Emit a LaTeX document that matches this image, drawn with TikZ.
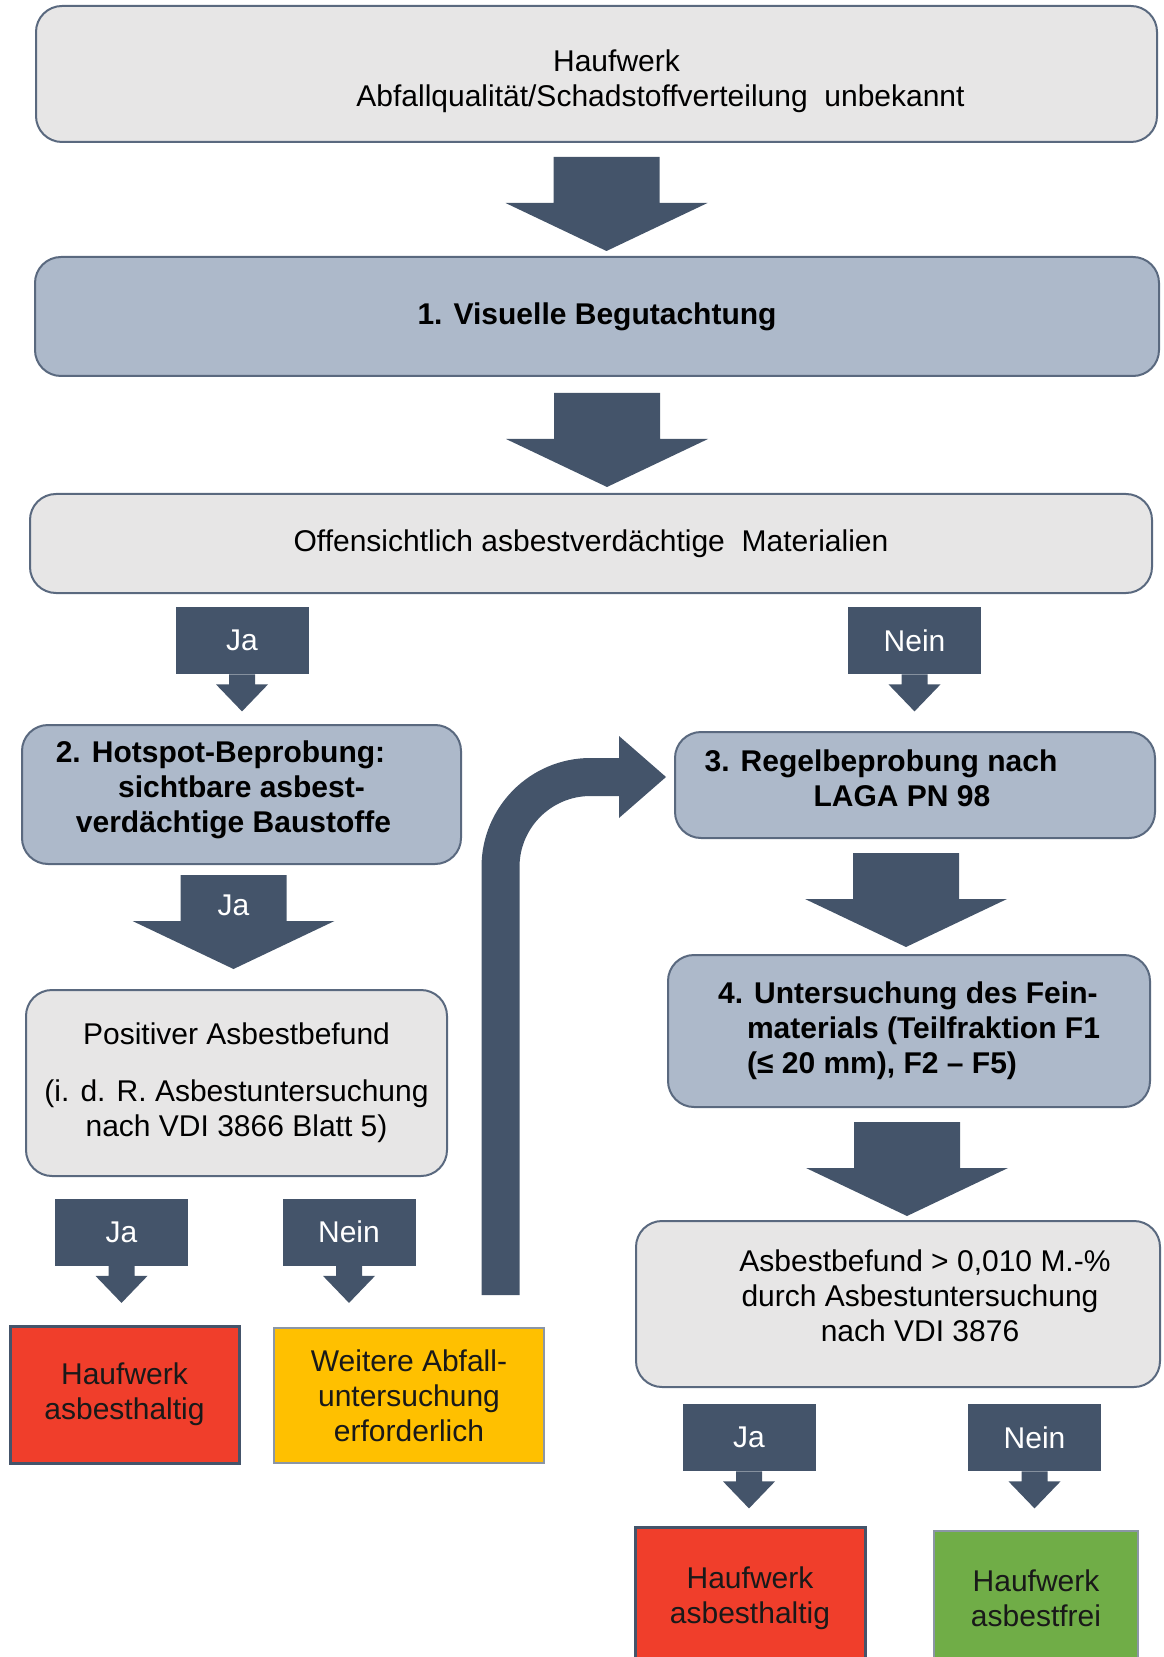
\documentclass[tikz,border=0pt]{standalone}
\usepackage{fontspec}
\setmainfont{Liberation Sans}
\usepackage{tikz}

\definecolor{slate}{HTML}{44546A}
\definecolor{edge}{HTML}{5A697F}
\definecolor{greyfill}{HTML}{E7E6E6}
\definecolor{bluefill}{HTML}{ADB9CA}
\definecolor{alarm}{HTML}{F03E2B}
\definecolor{amber}{HTML}{FFC000}
\definecolor{clean}{HTML}{70AD47}

\begin{document}
\begin{tikzpicture}[
  x=0.5pt, y=-0.5pt,
  font=\fontsize{15}{17.5}\selectfont,
  greybox/.style={rectangle, rounded corners=13pt, draw=edge, line width=1pt, fill=greyfill, align=center, inner sep=0pt},
  bluebox/.style={greybox, fill=bluefill, font=\fontsize{15}{17.5}\selectfont\bfseries},
  result/.style={rectangle, draw=edge!70, line width=1pt, align=center, inner sep=0pt, text=black!90},
  tag/.style={rectangle, fill=slate, text=white, minimum width=66.5pt, minimum height=33.5pt, inner sep=0pt},
  % block arrows, drawn from the top middle of the shaft
  bigdown/.pic={\fill[slate] (-53,0) -- (53,0) -- (53,46) -- (101,46) -- (0,94) -- (-101,46) -- (-53,46) -- cycle;},
  notch/.pic={\fill[slate] (-13,0) -- (13,0) -- (13,10) -- (26,10) -- (0,37) -- (-26,10) -- (-13,10) -- cycle;}
]
\clip (0,0) rectangle (1163,1657);

% Top of the chart
\node[greybox, minimum width=560.5pt, minimum height=68pt, text height=36pt] (start) at (596.5,74)
  {\hspace*{20pt}Haufwerk\\\hspace*{64pt}Abfallqualität/Schadstoffverteilung\ \ unbekannt};
\pic at ([xshift=5pt,yshift=-7pt]start.south) {bigdown};

\node[bluebox, minimum width=562pt, minimum height=59.5pt] (visual) at (597,316.5) {1. Visuelle Begutachtung};
\pic at ([xshift=5pt,yshift=-8pt]visual.south) {bigdown};

\node[greybox, minimum width=561pt, minimum height=49.5pt] (obvious) at (591,543.5)
  {Offensichtlich asbestverdächtige\ \ Materialien};

% Ja / Nein after the visual check
\node[tag] (yes1) at (242,640.5) {Ja};
\pic at (yes1.south) {notch};
\node[tag] (no1) at (914.5,640.5) {Nein};
\pic at (no1.south) {notch};

% Left branch: hotspot sampling
\node[bluebox, minimum width=219.5pt, minimum height=69.5pt, text depth=8pt] (hotspot) at (241.5,794.5)
  {2. Hotspot-Beprobung:\hspace*{21pt}\\sichtbare asbest-\hspace*{8pt}\\verdächtige Baustoffe\hspace*{8pt}};
\pic at ([xshift=-4pt,yshift=-5pt]hotspot.south) {bigdown};
\node[text=white] (yes0) at (233.5,905) {Ja};

\node[greybox, minimum width=210.5pt, minimum height=93pt] (positive) at (236.5,1083)
  {Positiver Asbestbefund\\[11pt](i. d. R. Asbestuntersuchung\\nach VDI 3866 Blatt 5)};

\node[tag] (yes2) at (121.5,1232) {Ja};
\pic at (yes2.south) {notch};
\node[tag] (no2) at (349,1232) {Nein};
\pic at (no2.south) {notch};

\node[result, fill=alarm, draw=slate, line width=1.5pt, minimum width=114.5pt, minimum height=68.5pt] (bad1) at (124.5,1394.5)
  {Haufwerk\\asbesthaltig};
\node[result, fill=amber, minimum width=135pt, minimum height=67.5pt] (further) at (409,1395.5)
  {Weitere Abfall-\\untersuchung\\erforderlich};

% Right branch: regular sampling
\node[bluebox, minimum width=240pt, minimum height=53pt, text depth=7pt] (regel) at (915,785)
  {3. Regelbeprobung nach\hspace*{34pt}\\LAGA PN 98\hspace*{13pt}};
\pic at ([xshift=-4.5pt,yshift=-7pt]regel.south) {bigdown};

% Way back to the regular sampling
\coordinate (loop) at (500.5,1295);
\draw[slate, line width=19pt, rounded corners=45pt] (loop) |- ([xshift=-27.5pt,yshift=4pt]regel.west) coordinate (bend);
\fill[slate] (bend) ++(0,-41) -- ++(47,41) -- ++(-47,41) -- cycle;

\node[bluebox, minimum width=241pt, minimum height=76pt, align=left] (fine) at (909,1031)
  {4. Untersuchung des Fein-\\\hspace*{14.5pt}materials (Teilfraktion F1\hspace*{13pt}\\\hspace*{14.5pt}(≤ 20 mm), F2 – F5)};
\pic at ([xshift=-1pt,yshift=-7pt]fine.south) {bigdown};

\node[greybox, minimum width=262pt, minimum height=83pt, text depth=8.5pt] (finding) at (898,1304)
  {\hspace*{27pt}Asbestbefund > 0,010 M.-\%\\\hspace*{22pt}durch Asbestuntersuchung\\\hspace*{22pt}nach VDI 3876};

\node[tag] (yes3) at (749,1437.5) {Ja};
\pic at (yes3.south) {notch};
\node[tag] (no3) at (1034.5,1437.5) {Nein};
\pic at (no3.south) {notch};

\node[result, fill=alarm, draw=slate, line width=1.5pt, minimum width=115pt, minimum height=71pt] (bad2) at (750,1598)
  {Haufwerk\\asbesthaltig};
\node[result, fill=clean, minimum width=102pt, minimum height=67pt] (free) at (1036,1598)
  {Haufwerk\\asbestfrei};

\end{tikzpicture}
\end{document}
